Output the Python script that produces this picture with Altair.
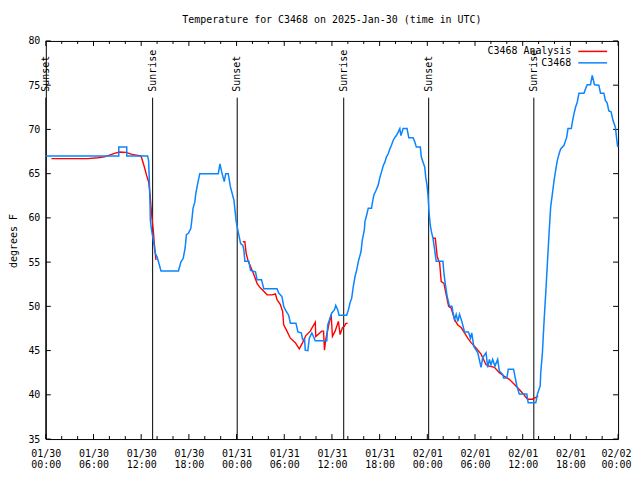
import altair as alt
import pandas as pd

FONT = "DejaVu Sans Mono"
TITLE = "Temperature for C3468 on 2025-Jan-30 (time in UTC)"
Y_TITLE = "degrees F"

# hours since 2025-01-30 00:00 UTC
obs_hours = [0.0, 9.18, 9.18, 10.18, 10.18, 12.81, 12.93, 13.02, 13.11, 13.15, 13.31, 13.52, 13.77, 13.99,
             14.28, 14.49, 16.69, 16.99, 17.28, 17.53, 17.69, 17.94, 18.24, 18.37, 18.53, 18.75, 18.87,
             19.07, 19.37, 21.70, 21.91, 22.13, 22.45, 22.63, 22.95, 23.23, 23.67, 23.95, 24.21, 24.51,
             24.79, 24.92, 25.04, 25.54, 25.76, 26.38, 26.58, 27.14, 27.42, 29.09, 29.30, 29.71, 29.93,
             30.14, 30.55, 30.77, 31.47, 31.72, 32.14, 32.31, 32.56, 32.64, 32.97, 33.15, 33.47, 33.68,
             33.90, 35.35, 35.47, 35.78, 35.98, 36.31, 36.48, 36.73, 36.90, 37.85, 38.07, 38.28, 38.48,
             38.69, 38.91, 39.11, 39.32, 39.66, 39.82, 40.07, 40.16, 40.36, 40.57, 40.98, 41.11, 41.28,
             41.54, 41.82, 42.04, 42.24, 42.45, 42.66, 42.86, 43.08, 43.29, 43.49, 43.70, 43.91, 44.11,
             44.33, 44.54, 44.67, 44.83, 44.95, 45.45, 45.67, 46.21, 46.42, 46.62, 47.12, 47.24, 47.46,
             47.67, 47.80, 47.96, 48.08, 48.21, 48.37, 48.50, 48.71, 48.92, 49.12, 49.96, 50.09, 50.25,
             50.50, 50.80, 51.09, 51.21, 51.43, 51.63, 51.84, 52.05, 52.34, 52.68, 53.18, 53.43, 53.59,
             53.84, 54.35, 54.76, 54.97, 55.39, 55.60, 55.81, 56.01, 56.22, 56.51, 56.85, 57.06, 57.48,
             57.60, 58.01, 58.19, 58.85, 59.02, 59.27, 59.57, 60.52, 60.69, 61.65, 61.86, 62.20, 62.27,
             62.48, 62.70, 62.90, 63.11, 63.32, 63.52, 63.74, 63.95, 64.15, 64.36, 64.58, 64.78, 65.20,
             65.53, 65.70, 66.12, 66.24, 66.45, 66.65, 66.87, 67.08, 67.71, 67.91, 68.12, 68.53, 68.75,
             69.03, 69.58, 69.79, 70.21, 70.41, 70.62, 70.84, 71.12, 71.37, 71.66, 71.87, 71.96]
obs_temp = [67, 67, 68, 68, 67, 67, 66.5, 64.4, 61.6, 59.75, 58.6, 57.5, 56.0, 55.6,
            54.7, 54, 54, 55, 55.4, 56.6, 58.1, 58.25, 58.8, 59.75, 61.1, 61.8, 62.75,
            63.7, 65, 65, 66.1, 65.2, 64.1, 65, 65, 63.5, 62, 59.6, 58.4, 57.1,
            56.9, 56.4, 55.1, 55.1, 54.05, 53.9, 53, 53, 52, 52, 51.5, 51.1, 50,
            49.6, 49, 48.1, 48.1, 47.1, 47, 46.25, 46.25, 45.05, 45, 46.4, 47, 46.6,
            46.1, 46.1, 47.9, 48.7, 49.25, 49.6, 50.1, 49.6, 49, 49, 49.6, 50.4, 50.9,
            52.25, 53.4, 54.1, 55.05, 56.2, 57.5, 58.6, 59.6, 60.3, 61.1, 61.1, 61.8, 62.6,
            63.1, 63.7, 64.6, 65.2, 65.9, 66.3, 66.9, 67.25, 67.8, 68.2, 68.75, 69.1, 69.3,
            69.7, 70.1, 69.3, 69.7, 70.1, 70.1, 69.05, 69.05, 68.6, 68, 68, 66.9, 66.3,
            65.75, 64.6, 63.7, 62.6, 60.7, 59.2, 58.5, 57.7, 56.4, 55.1, 55.1, 53.75, 52.6,
            51.1, 50, 50, 49.4, 48.5, 49.1, 48.3, 49.1, 48.3, 47.1, 47.1, 46.4, 47,
            45.5, 44.75, 43.1, 44.2, 44.75, 43.1, 44, 43.4, 44, 43.25, 44, 42.7, 42.3,
            41.9, 41.9, 42.9, 42.9, 42.1, 41, 40.1, 40.1, 39.1, 39.1, 40.1, 41, 42.5,
            44.75, 48.5, 51.5, 54.9, 58.25, 61.25, 62.75, 64.25, 65.4, 66.5, 67.25, 67.8, 68.2,
            69.1, 70.1, 70.1, 70.8, 71.75, 72.5, 73.1, 74.1, 74.1, 74.6, 75.05, 75.05, 76.1,
            75.05, 75, 74.1, 74.1, 73.25, 73, 72.1, 72, 71, 70.25, 68.6, 68]

ana1_hours = [0.71, 5.30, 6.55, 7.39, 8.01, 8.64, 9.27, 10.10, 10.73, 11.36, 11.98, 12.40, 12.68,
              12.94, 13.11, 13.24, 13.36, 13.52, 13.65, 13.77, 13.86]
ana1_temp = [66.7, 66.7, 66.8, 66.9, 67.1, 67.3, 67.45, 67.4, 67.2, 67.1, 67.0, 65.75, 64.8,
             64.06, 62.75, 61.25, 59.9, 58.6, 57.1, 56.0, 55.25]
ana2_hours = [24.79, 25.04, 25.21, 25.46, 25.76, 26.17, 26.58, 26.88, 27.21, 27.84, 28.46, 28.89,
              29.09, 29.51, 29.80, 29.93, 30.34, 30.77, 31.39, 31.89, 32.31, 32.72, 33.27, 33.90,
              33.97, 34.72, 34.94, 35.06, 35.22, 35.56, 35.90, 36.06, 36.40, 36.81, 37.03, 37.32,
              37.57, 37.73, 37.98]
ana2_temp = [57.3, 57.3, 56, 55.1, 54.5, 53.6, 52.6, 52.2, 51.9, 51.3, 51.3, 51.4,
             50.75, 50.2, 49.4, 47.9, 47.2, 46.4, 45.9, 45.2, 45.9, 46.7, 47.2, 48.2,
             46.6, 47.2, 47.2, 45.05, 46.25, 47.75, 49.1, 46.6, 47.2, 48.3, 46.8, 47.6,
             47.75, 48.05, 48.1]
ana3_hours = [48.71, 49.00, 49.25, 49.55, 49.75, 50.09, 50.38, 50.68, 51.00, 51.43, 51.84, 52.25,
              52.68, 53.09, 53.51, 54.13, 54.76, 55.39, 55.81, 56.44, 57.06, 57.69, 58.31, 58.94,
              59.57, 60.11, 60.61, 61.23, 61.65, 61.95]
ana3_temp = [57.7, 57.7, 55.6, 54.9, 52.8, 52.6, 51.3, 50, 49.8, 48.5, 47.9, 47.6,
             47.0, 46.4, 45.9, 45.3, 44.6, 43.4, 43.25, 43.1, 42.5, 42.1, 41.75, 41.2,
             40.6, 40.06, 39.5, 39.5, 39.7, 39.9]

sun_hours = [0.0, 13.44, 24.08, 37.48, 48.17, 61.40]
sun_labels = ["Sunset", "Sunrise", "Sunset", "Sunrise", "Sunset", "Sunrise"]

day_labels = ["01/30", "01/31", "02/01", "02/02"]
x_major = list(range(0, 73, 6))
x_minor = [h for h in range(0, 73, 2) if h % 6]
y_major = list(range(35, 81, 5))

series_names = ["C3468 Analysis", "C3468"]
series_colors = ["#ff0000", "#0a84ff"]

W, H = 575, 400

obs_df = pd.DataFrame({"h": obs_hours, "t": obs_temp})
ana_df = pd.concat([
    pd.DataFrame({"h": ana1_hours, "t": ana1_temp, "seg": 1}),
    pd.DataFrame({"h": ana2_hours, "t": ana2_temp, "seg": 2}),
    pd.DataFrame({"h": ana3_hours, "t": ana3_temp, "seg": 3}),
])
sun_df = pd.DataFrame({"h": sun_hours, "label": sun_labels})

label_expr = ("[" + str(day_labels) + "[floor(datum.value/24)], "
              "((datum.value%24)<10?'0':'') + (datum.value%24) + ':00']")

x_enc = alt.X("h:Q", title=None,
              scale=alt.Scale(domain=[0, 72], nice=False, zero=False),
              axis=alt.Axis(values=x_major, labelExpr=label_expr, ticks=False, domain=False,
                            grid=False, labelFont=FONT, labelFontSize=10, labelColor="black",
                            labelBaseline="top", labelLineHeight=11, labelPadding=10,
                            labelAngle=0, labelFlush=False, labelOverlap=False,
                            labelOffset={"condition": {"test": "datum.value >= 72", "value": -2},
                                         "value": 0}))
y_enc = alt.Y("t:Q", title=None,
              scale=alt.Scale(domain=[35, 80], nice=False, zero=False),
              axis=alt.Axis(values=y_major, ticks=False, domain=False, grid=False,
                            labelFont=FONT, labelFontSize=10, labelColor="black",
                            labelPadding=6, labelFlush=False, labelOverlap=False))

xmaj_df = pd.DataFrame({"h": x_major})
xmin_df = pd.DataFrame({"h": x_minor})
ymaj_df = pd.DataFrame({"t": y_major})

tick_style = dict(color="black", strokeWidth=1)
ticks = [
    alt.Chart(xmaj_df).mark_rule(**tick_style).encode(x=x_enc, y=alt.value(H), y2=alt.value(H - 5)),
    alt.Chart(xmaj_df).mark_rule(**tick_style).encode(x=x_enc, y=alt.value(0), y2=alt.value(5)),
    alt.Chart(xmin_df).mark_rule(**tick_style).encode(x=x_enc, y=alt.value(H), y2=alt.value(H - 3)),
    alt.Chart(xmin_df).mark_rule(**tick_style).encode(x=x_enc, y=alt.value(0), y2=alt.value(3)),
    alt.Chart(ymaj_df).mark_rule(**tick_style).encode(y=y_enc, x=alt.value(0), x2=alt.value(5)),
    alt.Chart(ymaj_df).mark_rule(**tick_style).encode(y=y_enc, x=alt.value(W), x2=alt.value(W - 5)),
]

sun_rules = alt.Chart(sun_df).mark_rule(color="black", strokeWidth=1).encode(
    x=x_enc, y=alt.value(57), y2=alt.value(H))
sun_text = alt.Chart(sun_df).mark_text(angle=270, align="left", baseline="middle",
                                       font=FONT, fontSize=10, color="black").encode(
    x=x_enc, y=alt.value(51), text="label:N")

ana_line = alt.Chart(ana_df).mark_line(color=series_colors[0], strokeWidth=1.4).encode(
    x=x_enc, y=y_enc, detail="seg:N", order="h:Q")
obs_line = alt.Chart(obs_df).mark_line(color=series_colors[1], strokeWidth=1.5).encode(
    x=x_enc, y=y_enc, order="h:Q")

legend_layers = []
for i, (name, col) in enumerate(zip(series_names, series_colors)):
    ldf = pd.DataFrame({"name": [name]})
    yy = 10.5 + 11.5 * i
    legend_layers.append(alt.Chart(ldf).mark_text(align="right", baseline="middle", font=FONT,
                                                  fontSize=10, color="black").encode(
        x=alt.value(528), y=alt.value(yy), text="name:N"))
    legend_layers.append(alt.Chart(ldf).mark_rule(color=col, strokeWidth=1.5).encode(
        x=alt.value(535), x2=alt.value(564), y=alt.value(yy)))

title_layer = alt.Chart(pd.DataFrame({"s": [TITLE]})).mark_text(
    font=FONT, fontSize=10, color="black", baseline="middle", align="center").encode(
    x=alt.value(287.5), y=alt.value(-21), text="s:N")
ytitle_layer = alt.Chart(pd.DataFrame({"s": [Y_TITLE]})).mark_text(
    font=FONT, fontSize=10, color="black", baseline="middle", align="center", angle=270).encode(
    x=alt.value(-32), y=alt.value(201), text="s:N")

chart = alt.layer(*ticks, sun_rules, sun_text, ana_line, obs_line, *legend_layers,
                  title_layer, ytitle_layer).properties(
    width=W, height=H, autosize="none",
    padding={"left": 38, "top": 32, "right": 14, "bottom": 31},
    background="white",
).configure_view(stroke="black", strokeWidth=1)

chart.save("out.html", embed_options={"renderer": "svg", "actions": False})
